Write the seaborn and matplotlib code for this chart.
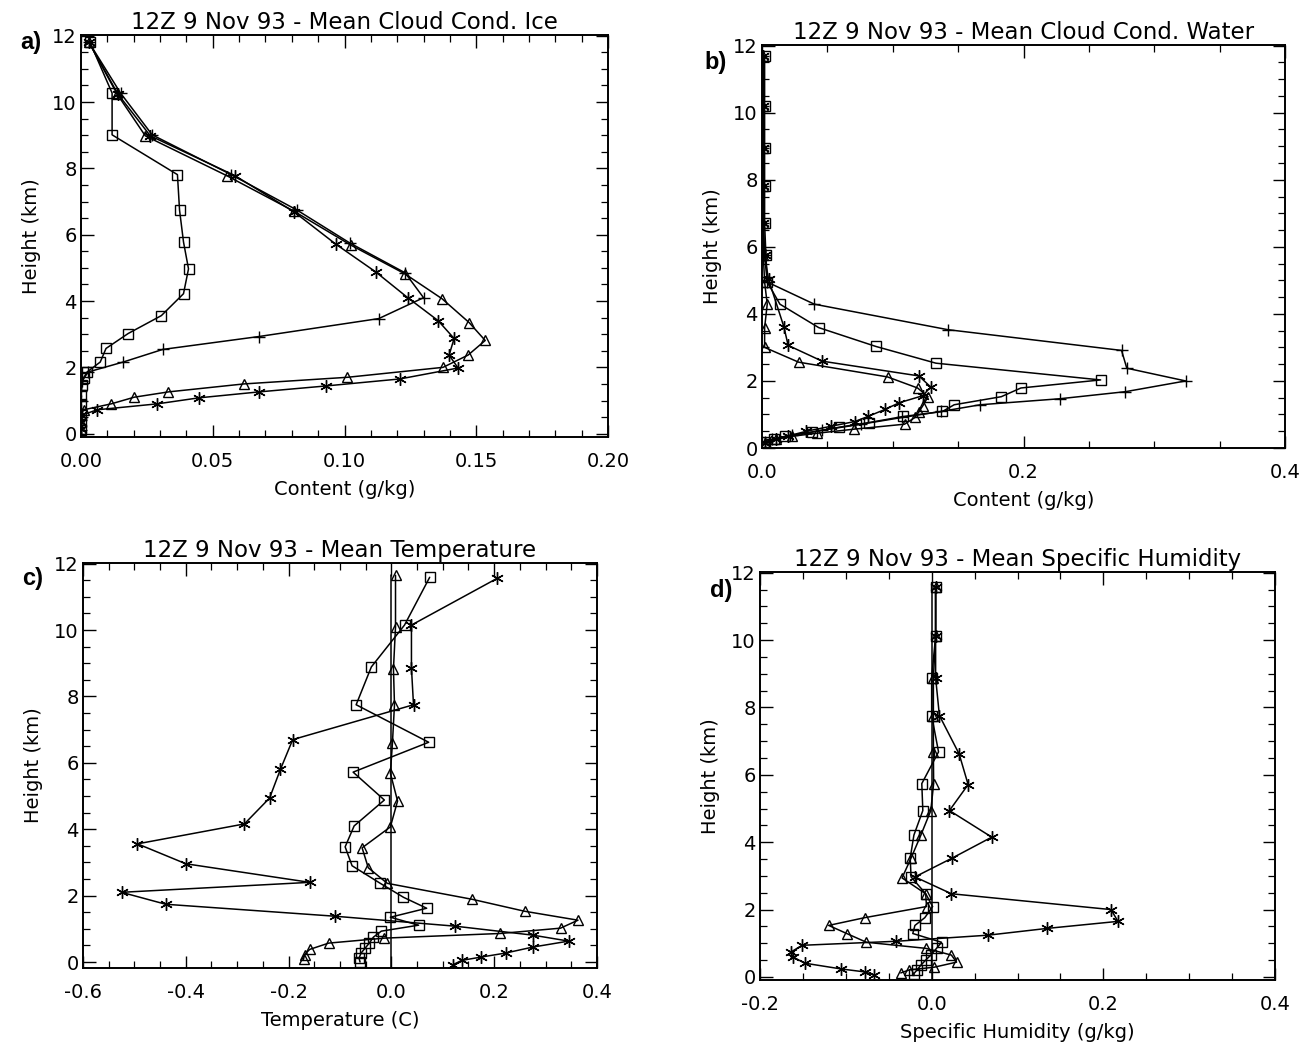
import numpy as np
import pandas as pd
import matplotlib
matplotlib.use("Agg")
import matplotlib.pyplot as plt
import seaborn as sns
from matplotlib.ticker import MultipleLocator, FormatStrFormatter

# ---------------- data (height km, value) ----------------
# Panel a: Mean Cloud Cond. Ice (g/kg)
a_sq_h = [11.8, 10.27, 9.01, 7.81, 6.74, 5.78, 4.97, 4.22, 3.56, 3.02, 2.57, 2.16, 1.86, 1.68, 1.47, 1.17, 0.9, 0.6, 0.35, 0.1]
a_sq_v = [0.0034, 0.0118, 0.0118, 0.0366, 0.0374, 0.0389, 0.0408, 0.0389, 0.0305, 0.0179, 0.0095, 0.0073, 0.0023, 0.001, 0.0004, 0.0, 0.0, 0.0, 0.0, 0.0]
a_pl_h = [11.8, 10.27, 9.01, 7.81, 6.74, 5.75, 4.85, 4.1, 3.47, 2.93, 2.54, 2.16, 1.86, 1.6, 1.3, 1.0, 0.7, 0.4, 0.1]
a_pl_v = [0.003, 0.015, 0.027, 0.057, 0.082, 0.102, 0.123, 0.130, 0.113, 0.0676, 0.031, 0.016, 0.0027, 0.0005, 0.0, 0.0, 0.0, 0.0, 0.0]
a_tr_h = [11.8, 10.24, 8.98, 7.78, 6.7, 5.69, 4.82, 4.07, 3.35, 2.81, 2.37, 2.0, 1.7, 1.5, 1.26, 1.1, 0.9, 0.72, 0.55, 0.35, 0.15]
a_tr_v = [0.003, 0.0137, 0.0244, 0.0553, 0.081, 0.1023, 0.1229, 0.137, 0.1473, 0.1534, 0.1469, 0.1374, 0.1011, 0.0618, 0.0332, 0.0202, 0.0115, 0.001, 0.0, 0.0, 0.0]
a_st_h = [11.8, 10.24, 8.98, 7.78, 6.68, 5.72, 4.88, 4.1, 3.41, 2.87, 2.37, 1.98, 1.65, 1.44, 1.26, 1.08, 0.9, 0.72, 0.55, 0.35, 0.15]
a_st_v = [0.003, 0.014, 0.0263, 0.0584, 0.081, 0.0966, 0.1118, 0.124, 0.1355, 0.1416, 0.1397, 0.1431, 0.121, 0.0931, 0.0676, 0.0447, 0.029, 0.0061, 0.0, 0.0, 0.0]

# Panel b: Mean Cloud Cond. Water (g/kg)
b_sq_h = [11.7, 10.2, 8.95, 7.8, 6.7, 5.75, 4.95, 4.29, 3.59, 3.03, 2.53, 2.03, 1.79, 1.53, 1.29, 1.09, 0.94, 0.76, 0.62, 0.47, 0.35, 0.26, 0.18]
b_sq_v = [0.002, 0.002, 0.002, 0.002, 0.002, 0.003, 0.004, 0.0137, 0.0434, 0.087, 0.133, 0.259, 0.198, 0.183, 0.147, 0.138, 0.108, 0.082, 0.059, 0.038, 0.0175, 0.009, 0.002]
b_pl_h = [11.7, 10.2, 8.95, 7.8, 6.7, 5.75, 4.95, 4.29, 3.53, 2.91, 2.38, 2.0, 1.68, 1.47, 1.29, 1.09, 0.91, 0.71, 0.53, 0.38, 0.26, 0.18]
b_pl_v = [0.001, 0.001, 0.001, 0.001, 0.001, 0.002, 0.004, 0.040, 0.142, 0.275, 0.279, 0.324, 0.278, 0.228, 0.167, 0.137, 0.107, 0.076, 0.046, 0.023, 0.008, 0.002]
b_tr_h = [11.7, 10.2, 8.95, 7.8, 6.7, 5.75, 4.95, 4.29, 3.59, 3.0, 2.56, 2.12, 1.79, 1.53, 1.26, 1.08, 0.91, 0.71, 0.56, 0.44, 0.35, 0.26, 0.15]
b_tr_v = [0.001, 0.001, 0.001, 0.001, 0.001, 0.001, 0.002, 0.004, 0.002, 0.002, 0.028, 0.096, 0.119, 0.127, 0.123, 0.120, 0.117, 0.109, 0.070, 0.042, 0.023, 0.011, 0.002]
b_st_h = [11.7, 10.2, 8.95, 7.8, 6.7, 5.75, 5.03, 3.62, 3.06, 2.59, 2.15, 1.82, 1.56, 1.35, 1.15, 0.94, 0.79, 0.65, 0.5, 0.36, 0.26, 0.15]
b_st_v = [0.001, 0.001, 0.001, 0.001, 0.001, 0.002, 0.005, 0.0167, 0.020, 0.046, 0.120, 0.129, 0.123, 0.105, 0.094, 0.081, 0.071, 0.053, 0.034, 0.02, 0.011, 0.002]

# Panel c: Mean Temperature (C)
c_sq_h = [11.59, 10.15, 8.89, 7.75, 6.62, 5.72, 4.88, 4.1, 3.47, 2.9, 2.37, 1.95, 1.62, 1.35, 1.11, 0.93, 0.75, 0.57, 0.42, 0.27, 0.12, 0.0]
c_sq_v = [0.0745, 0.0255, -0.039, -0.0686, 0.0725, -0.0745, -0.0137, -0.0725, -0.090, -0.0765, -0.0216, 0.0235, 0.0686, -0.002, 0.053, -0.0196, -0.035, -0.043, -0.051, -0.059, -0.063, -0.061]
c_pl_h = [11.65, -0.18]
c_pl_v = [0.0, 0.0]
c_tr_h = [11.65, 10.09, 8.83, 7.75, 6.59, 5.69, 4.85, 4.07, 3.44, 2.84, 2.37, 1.89, 1.53, 1.26, 1.02, 0.86, 0.72, 0.57, 0.38, 0.22, 0.08]
c_tr_v = [0.008, 0.008, 0.004, 0.006, 0.002, -0.002, 0.012, -0.002, -0.057, -0.045, -0.008, 0.157, 0.259, 0.363, 0.329, 0.212, -0.0137, -0.122, -0.159, -0.169, -0.171]
c_st_h = [11.56, 10.15, 8.86, 7.75, 6.7, 5.8, 4.94, 4.16, 3.56, 2.96, 2.4, 2.1, 1.74, 1.38, 1.08, 0.81, 0.63, 0.45, 0.27, 0.15, 0.05, -0.08]
c_st_v = [0.206, 0.039, 0.039, 0.043, -0.192, -0.216, -0.237, -0.286, -0.494, -0.4, -0.159, -0.525, -0.439, -0.11, 0.124, 0.275, 0.345, 0.275, 0.222, 0.175, 0.137, 0.12]

# Panel d: Mean Specific Humidity (g/kg)
d_sq_h = [11.56, 10.12, 8.88, 7.76, 6.68, 5.74, 4.94, 4.21, 3.53, 2.97, 2.47, 2.09, 1.76, 1.53, 1.29, 1.03, 0.85, 0.65, 0.5, 0.35, 0.21, 0.09]
d_sq_v = [0.0046, 0.0046, 0.0, 0.0, 0.008, -0.0115, -0.0103, -0.0207, -0.025, -0.024, -0.0069, 0.0011, -0.008, -0.0195, -0.022, 0.0115, 0.0057, -0.001, -0.007, -0.0126, -0.017, -0.021]
d_pl_h = [11.6, -0.09]
d_pl_v = [0.0, 0.0]
d_tr_h = [11.56, 10.12, 8.88, 7.76, 6.68, 5.74, 4.94, 4.21, 3.53, 2.94, 2.47, 2.09, 1.76, 1.53, 1.29, 1.03, 0.85, 0.65, 0.44, 0.29, 0.21, 0.12]
d_tr_v = [0.0046, 0.0046, 0.002, 0.002, 0.002, 0.0023, -0.001, -0.0126, -0.024, -0.0345, -0.007, -0.006, -0.078, -0.12, -0.099, -0.076, -0.007, 0.023, 0.029, 0.003, -0.026, -0.036]
d_st_h = [11.56, 10.12, 8.88, 7.76, 6.62, 5.71, 4.94, 4.15, 3.53, 2.97, 2.47, 2.0, 1.65, 1.44, 1.24, 1.06, 0.94, 0.74, 0.6, 0.41, 0.24, 0.15, 0.06]
d_st_v = [0.0046, 0.0046, 0.0046, 0.009, 0.032, 0.0425, 0.0207, 0.070, 0.024, -0.0195, 0.023, 0.209, 0.217, 0.134, 0.0655, -0.041, -0.151, -0.164, -0.162, -0.148, -0.106, -0.078, -0.067]

titles = ["12Z 9 Nov 93 - Mean Cloud Cond. Ice",
          "12Z 9 Nov 93 - Mean Cloud Cond. Water",
          "12Z 9 Nov 93 - Mean Temperature",
          "12Z 9 Nov 93 - Mean Specific Humidity"]
xlabels = ["Content (g/kg)", "Content (g/kg)", "Temperature (C)", "Specific Humidity (g/kg)"]
panel_letters = ["a)", "b)", "c)", "d)"]

# ---------------- style ----------------
sns.set_theme(style="ticks")
plt.rcParams["font.family"] = ["DejaVu Sans"]
plt.rcParams["axes.linewidth"] = 1.4
plt.rcParams["text.color"] = "black"
plt.rcParams["axes.labelcolor"] = "black"
plt.rcParams["axes.titlecolor"] = "black"

W, H = 1314, 1047
fig = plt.figure(figsize=(W / 100, H / 100), dpi=100)


def box(l, r, t, b):
    return [l / W, 1 - b / H, (r - l) / W, (b - t) / H]


axes = [fig.add_axes(box(81, 608, 35, 437)),
        fig.add_axes(box(762, 1285, 45, 448)),
        fig.add_axes(box(83, 597, 563, 968)),
        fig.add_axes(box(760, 1275, 572, 980))]

STAR = (6, 2, 0)
MK = {"sq": ("s", 7.5), "pl": ("+", 9), "tr": ("^", 7.5), "st": (STAR, 9)}

panel_data = [
    [("pl", a_pl_h, a_pl_v), ("sq", a_sq_h, a_sq_v), ("tr", a_tr_h, a_tr_v), ("st", a_st_h, a_st_v)],
    [("pl", b_pl_h, b_pl_v), ("sq", b_sq_h, b_sq_v), ("tr", b_tr_h, b_tr_v), ("st", b_st_h, b_st_v)],
    [("none", c_pl_h, c_pl_v), ("sq", c_sq_h, c_sq_v), ("tr", c_tr_h, c_tr_v), ("st", c_st_h, c_st_v)],
    [("none", d_pl_h, d_pl_v), ("sq", d_sq_h, d_sq_v), ("tr", d_tr_h, d_tr_v), ("st", d_st_h, d_st_v)],
]

xlims = [(0, 0.2), (0, 0.4), (-0.6, 0.4), (-0.2, 0.4)]
ylims = [(-0.1, 12.02), (0.0, 12.02), (-0.18, 12.02), (-0.09, 12.02)]
xmaj = [0.05, 0.2, 0.2, 0.2]
xmin = [0.01, 0.05, 0.05, 0.05]
xfmt = ["%.2f", "%.1f", "%.1f", "%.1f"]

for i, ax in enumerate(axes):
    for key, h, v in panel_data[i]:
        df = pd.DataFrame({"h": h, "v": v})
        if key == "none":
            sns.lineplot(data=df, x="v", y="h", orient="y", estimator=None, ax=ax,
                         color="black", linewidth=1.1)
        else:
            m, ms = MK[key]
            sns.lineplot(data=df, x="v", y="h", orient="y", estimator=None, ax=ax,
                         color="black", linewidth=1.1, marker=m, markersize=ms,
                         markerfacecolor="none", markeredgecolor="black",
                         markeredgewidth=1.0)
    ax.set_xlim(*xlims[i])
    ax.set_ylim(*ylims[i])
    ax.xaxis.set_major_locator(MultipleLocator(xmaj[i]))
    ax.xaxis.set_minor_locator(MultipleLocator(xmin[i]))
    ax.xaxis.set_major_formatter(FormatStrFormatter(xfmt[i]))
    ax.yaxis.set_major_locator(MultipleLocator(2))
    ax.yaxis.set_minor_locator(MultipleLocator(0.5))
    ax.tick_params(which="both", direction="in", top=True, right=True,
                   labelsize=14, colors="black")
    ax.tick_params(axis="x", which="major", pad=11)
    ax.tick_params(axis="y", which="major", pad=3)
    ax.tick_params(which="major", length=9, width=1.0)
    ax.tick_params(which="minor", length=5, width=0.9)
    ax.set_xlabel(xlabels[i], fontsize=14, labelpad=6, color="black")
    ax.set_ylabel("Height (km)", fontsize=14, labelpad=8, color="black")
    ax.set_title(titles[i], fontsize=16.5, pad=4, color="black")
    for s in ax.spines.values():
        s.set_color("black")

letter_pos = [(20, 42), (704, 62), (22, 578), (710, 590)]
for (px, py), t in zip(letter_pos, panel_letters):
    fig.text(px / W, 1 - py / H, t, fontsize=17, fontweight="bold", color="black",
             family=["Liberation Sans", "DejaVu Sans"], va="center", ha="left")

fig.savefig("out.png", dpi=100)
